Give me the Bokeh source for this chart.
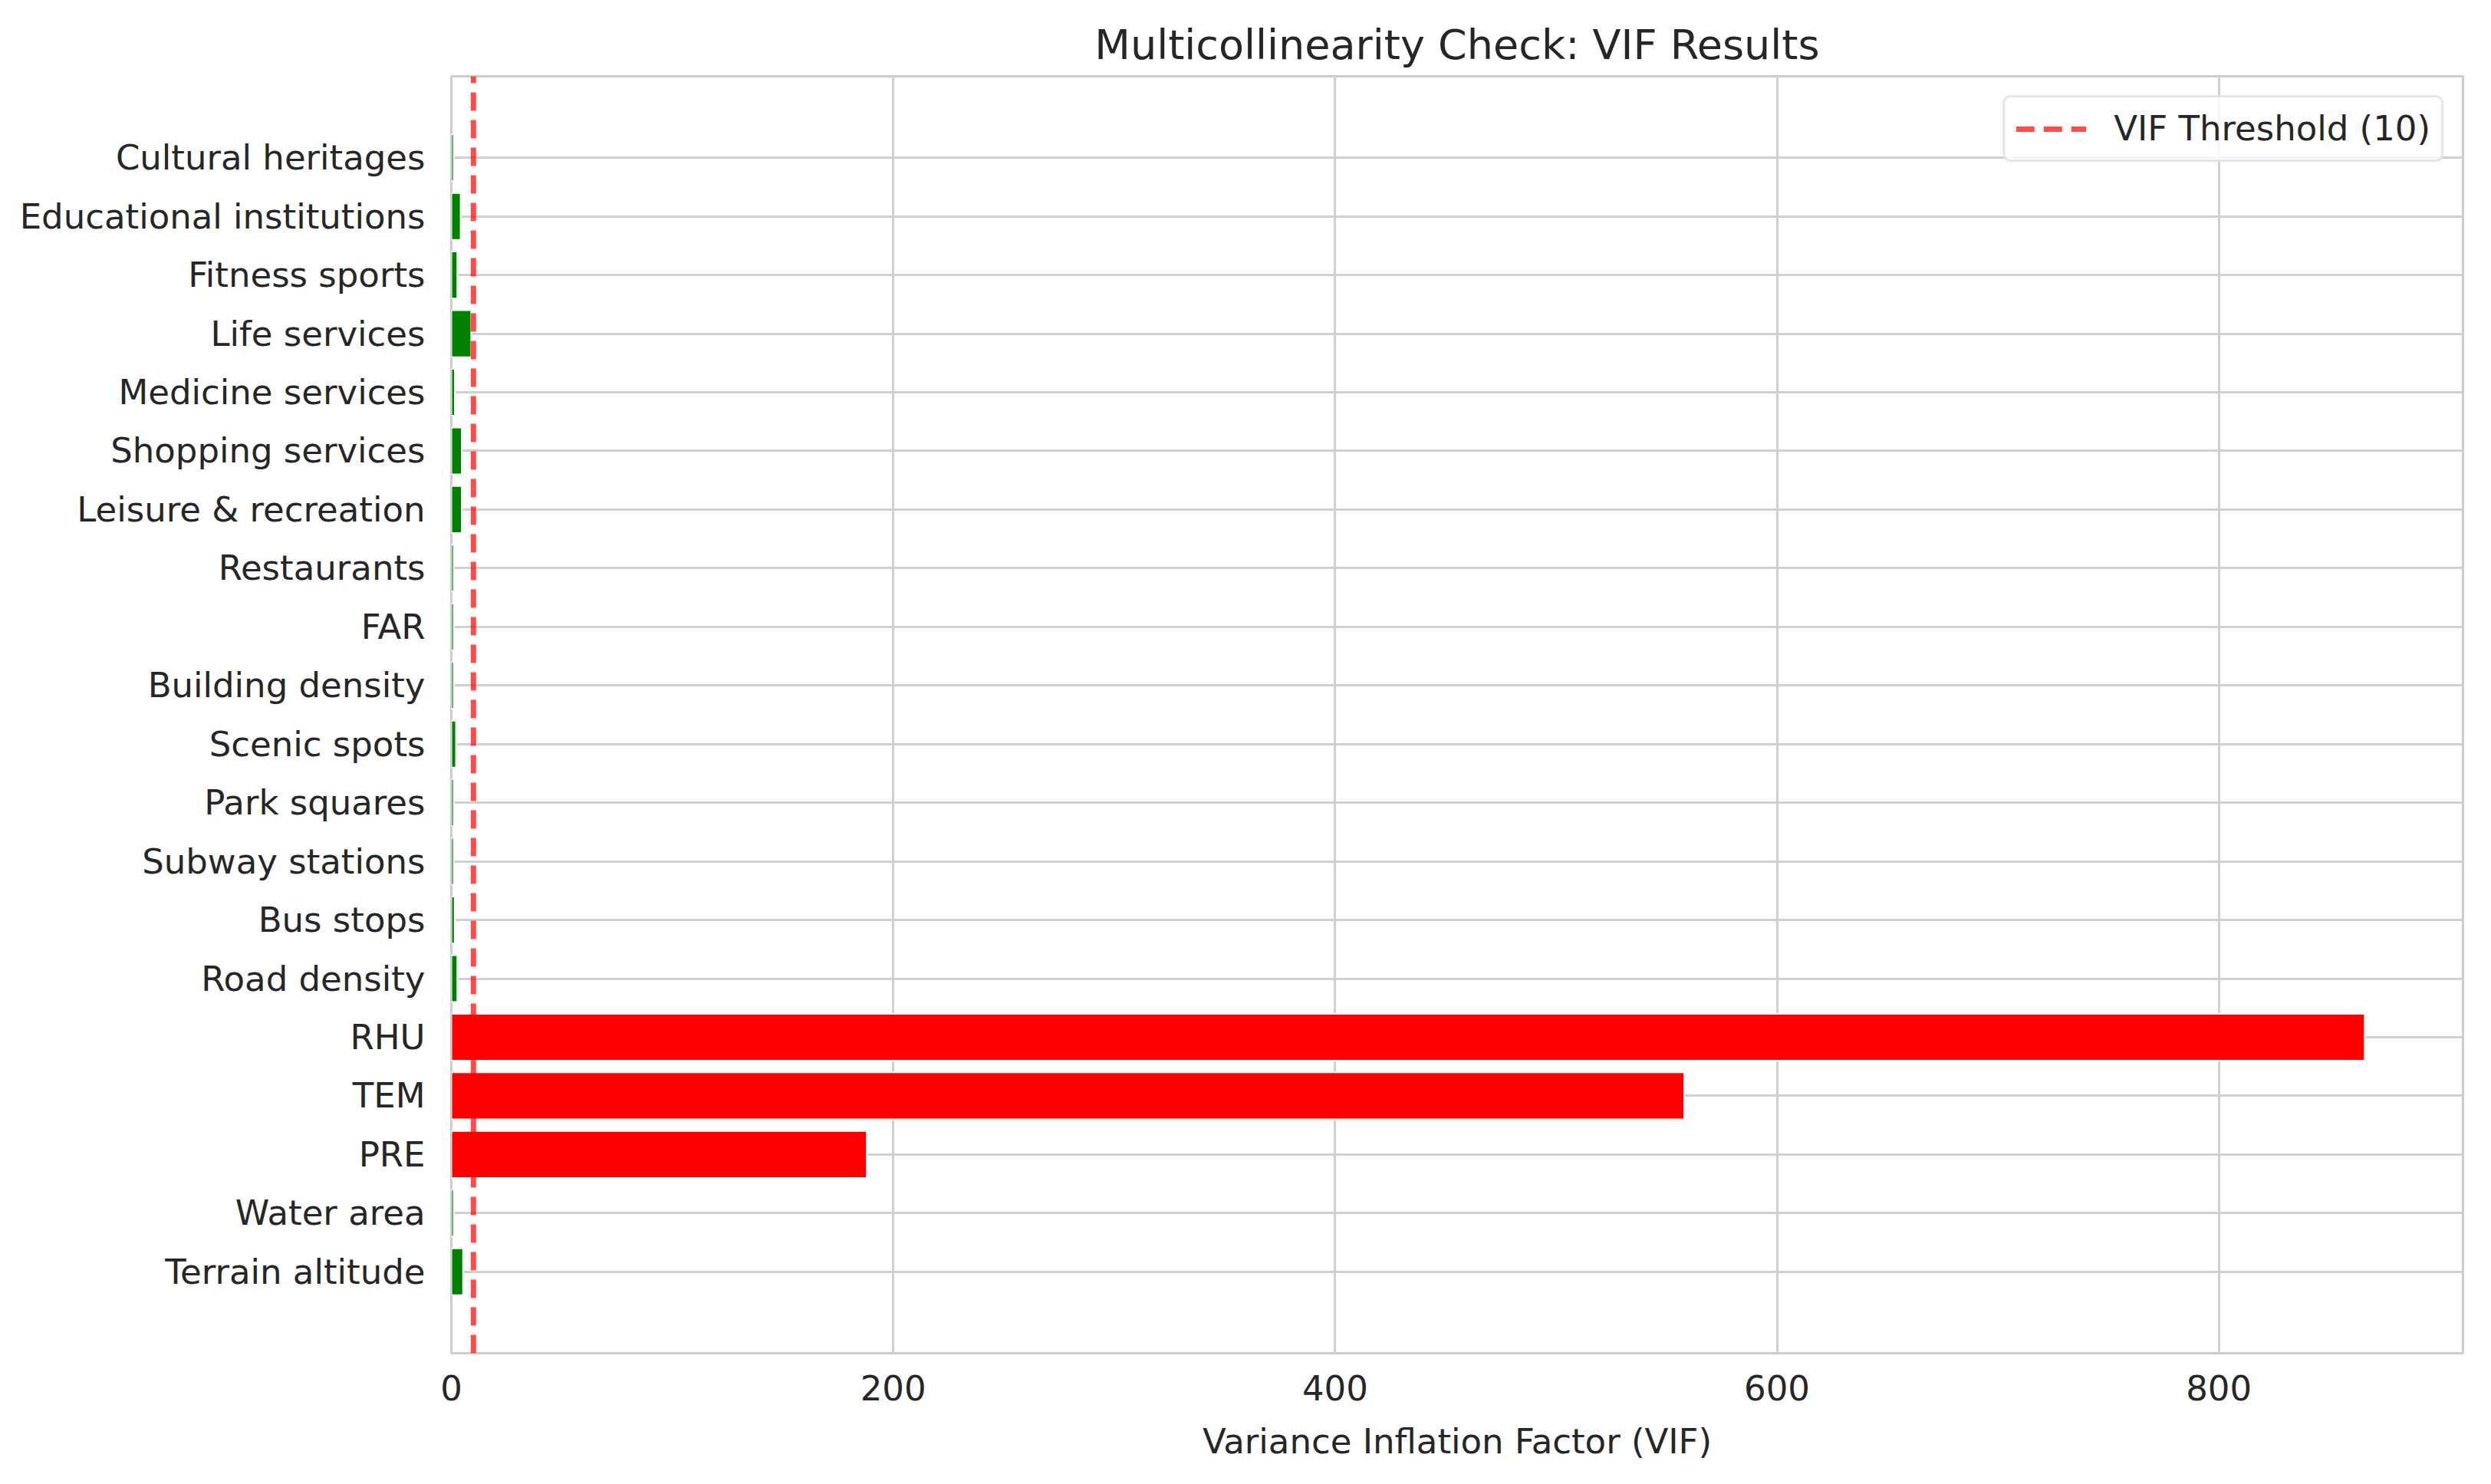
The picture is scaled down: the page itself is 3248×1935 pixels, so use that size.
from bokeh.plotting import figure
from bokeh.models import Range1d, Legend, LegendItem, FixedTicker, ColumnDataSource
from bokeh.embed import file_html
from bokeh.resources import INLINE

# ---- data (bottom to top) ----
variables = ["Terrain altitude", "Water area", "PRE", "TEM", "RHU", "Road density",
             "Bus stops", "Subway stations", "Park squares", "Scenic spots",
             "Building density", "FAR", "Restaurants", "Leisure & recreation",
             "Shopping services", "Medicine services", "Life services",
             "Fitness sports", "Educational institutions", "Cultural heritages"]
vif = [5.3, 1.1, 188, 558, 866, 2.7, 1.5, 1.1, 1.1, 2.1,
       1.1, 1.1, 1.1, 4.7, 4.7, 1.6, 9.0, 2.7, 4.2, 1.1]
threshold = 10
x_ticks = [0, 200, 400, 600, 800]

colors = ["red" if v > threshold else "green" for v in vif]
ypos = list(range(len(variables)))

TXT = "#262626"
FONT = "DejaVu Sans"

n = len(variables)
y_lo, y_hi = -0.4 - 0.05 * (n - 0.2), (n - 1) + 0.4 + 0.05 * (n - 0.2)
p = figure(width=3240, height=1927, output_backend="svg", toolbar_location=None,
           y_range=Range1d(y_lo, y_hi), x_range=Range1d(0, 910.5),
           min_border_left=588, min_border_right=29, min_border_top=99, min_border_bottom=163,
           title="Multicollinearity Check: VIF Results")
p.background_fill_color = "white"
p.border_fill_color = "white"
p.outline_line_color = "#cccccc"
p.outline_line_width = 3

src = ColumnDataSource(dict(y=ypos, right=vif, color=colors))
p.hbar(y="y", right="right", left=0, height=0.8, fill_color="color",
       line_color="white", line_width=2, source=src)

thr = p.line(x=[threshold, threshold], y=[y_lo, y_hi], line_color="red", line_alpha=0.7,
             line_dash="24 12", line_width=7)

legend = Legend(items=[LegendItem(label="VIF Threshold (10)", renderers=[thr])],
                location="top_right")
legend.label_text_font = FONT
legend.label_text_font_size = "45px"
legend.label_text_color = TXT
legend.glyph_width = 92
legend.glyph_height = 40
legend.label_standoff = 36
legend.padding = 14
legend.margin = 25
legend.border_line_color = "#cccccc"
legend.border_line_width = 3
legend.background_fill_alpha = 0.8
try:
    legend.border_radius = 10
except Exception:
    pass
p.add_layout(legend)

# title
p.title.text_font = FONT
p.title.text_font_size = "54px"
p.title.text_font_style = "normal"
p.title.text_color = TXT
p.title.align = "center"
p.title.standoff = 20

# grids
p.xgrid.ticker = FixedTicker(ticks=x_ticks)
p.ygrid.ticker = FixedTicker(ticks=ypos)
for g in (p.xgrid, p.ygrid):
    g.grid_line_color = "#d0d0d0"
    g.grid_line_width = 3

# axes
p.xaxis.ticker = FixedTicker(ticks=x_ticks)
p.yaxis.ticker = FixedTicker(ticks=ypos)
p.yaxis.major_label_overrides = {i: name for i, name in zip(ypos, variables)}
p.xaxis.axis_label = "Variance Inflation Factor (VIF)"
for ax in (p.xaxis, p.yaxis):
    ax.axis_line_color = None
    ax.major_tick_line_color = None
    ax.minor_tick_line_color = None
    ax.major_tick_out = 0
    ax.major_tick_in = 0
    ax.major_label_text_font = FONT
    ax.major_label_text_font_size = "45px"
    ax.major_label_text_color = TXT
    ax.axis_label_text_font = FONT
    ax.axis_label_text_font_size = "45px"
    ax.axis_label_text_font_style = "normal"
    ax.axis_label_text_color = TXT
p.xaxis.major_label_standoff = 28
p.xaxis.axis_label_standoff = 24
p.yaxis.major_label_standoff = 34

open("out.html", "w").write(file_html(p, INLINE))
